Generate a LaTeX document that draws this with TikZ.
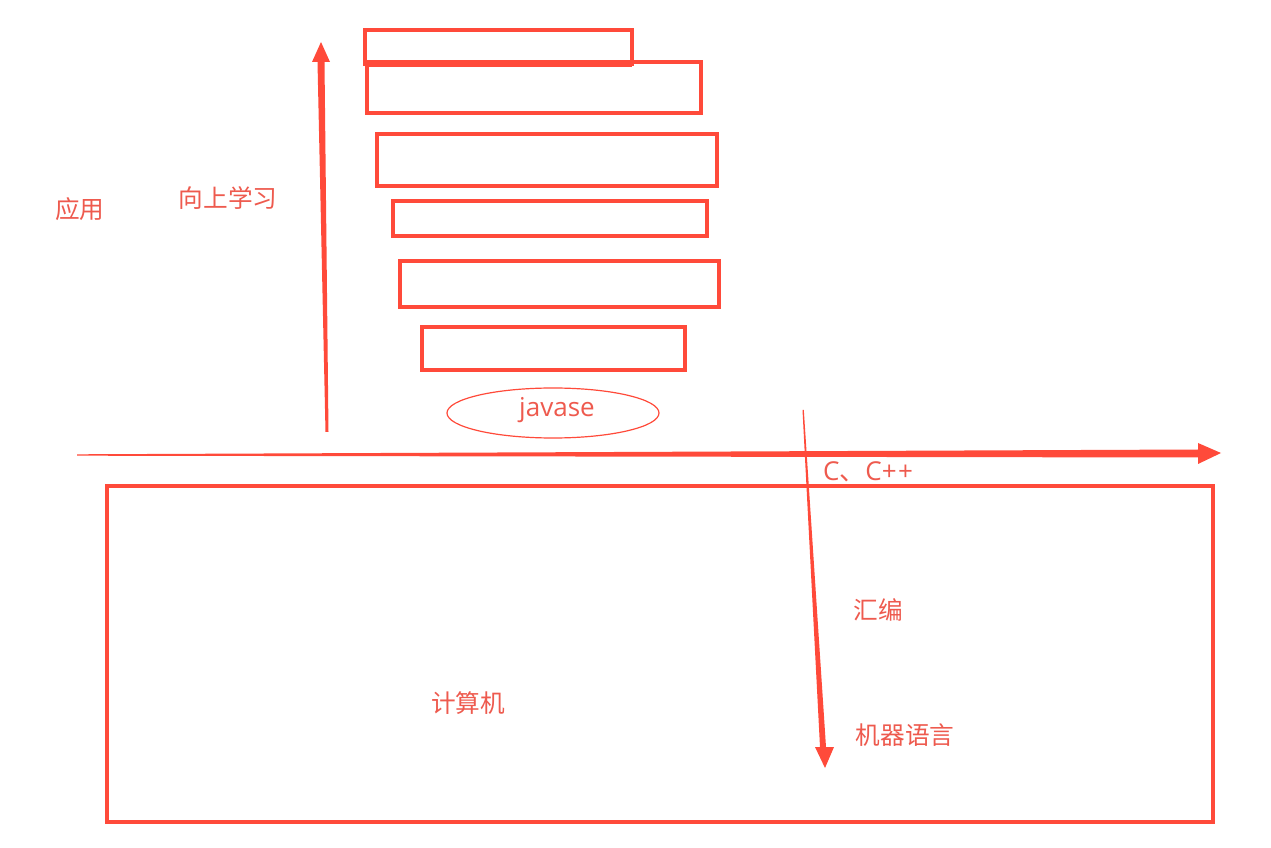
\documentclass[tikz,border=0pt]{standalone}
\usepackage{fontspec}
\newfontfamily\cjk{Noto Sans CJK SC}
\setsansfont{Open Sans}
\definecolor{lred}{HTML}{FF4A3A}
\definecolor{tred}{HTML}{EE5A4E}
\begin{document}
\begin{tikzpicture}[x=0.75pt,y=-0.75pt,
  layer/.style={draw=lred,line width=2.5pt},
  lbl/.style={text=tred,font=\cjk\fontsize{18.5}{20}\selectfont,inner sep=0pt},
  arr/.style={fill=lred,draw=none}]
\useasboundingbox (0,0) rectangle (1271,848);
\fill[white] (0,0) rectangle (1271,848);
% layer boxes
\draw[layer] (367,62) rectangle (701,113);
\draw[layer] (365,30) rectangle (632,64);
\draw[draw=lred,line width=4pt] (365,64) -- (632,64);
\draw[layer] (377,134) rectangle (717,186);
\draw[layer] (393,201) rectangle (707,236);
\draw[layer] (400,261) rectangle (719,307);
\draw[layer] (422,327) rectangle (685,370);
% javase ellipse
\draw[lred,line width=0.9pt] (553,413) ellipse [x radius=106,y radius=25];
\node[text=tred,font=\sffamily\fontsize{19.5}{22}\selectfont,inner sep=0pt] (javase) at (557,410) {javase};
% computer box
\draw[draw=lred,line width=2.5pt] (107,486) rectangle (1213,822);
% up arrow
\fill[arr] (325.5,432) -- (328.5,432) -- (324.5,62) -- (330,62) -- (321,42) -- (312,62) -- (317.5,62) -- cycle;
% horizontal arrow
\fill[arr] (77,454.3) -- (77,455.7) -- (1198,457.5) -- (1198,464) -- (1221,453) -- (1198,443) -- (1198,449.5) -- cycle;
% down arrow
\fill[arr] (802.5,410) -- (803.8,410) -- (826,747) -- (834,747) -- (825,768) -- (815,747) -- (820,747) -- cycle;
% labels
\node[lbl] (yy) at (80,209) {应用};
\node[lbl] (xs) at (228,198) {向上学习};
\node[lbl,font=\sffamily\fontsize{19.5}{22}\selectfont] (cc) at (868,472) {C{\cjk 、}C+\kern1pt+};
\node[lbl] (hb) at (878,610) {汇编};
\node[lbl] (jsj) at (468,703) {计算机};
\node[lbl] (jq) at (905,735) {机器语言};
\end{tikzpicture}
\end{document}
